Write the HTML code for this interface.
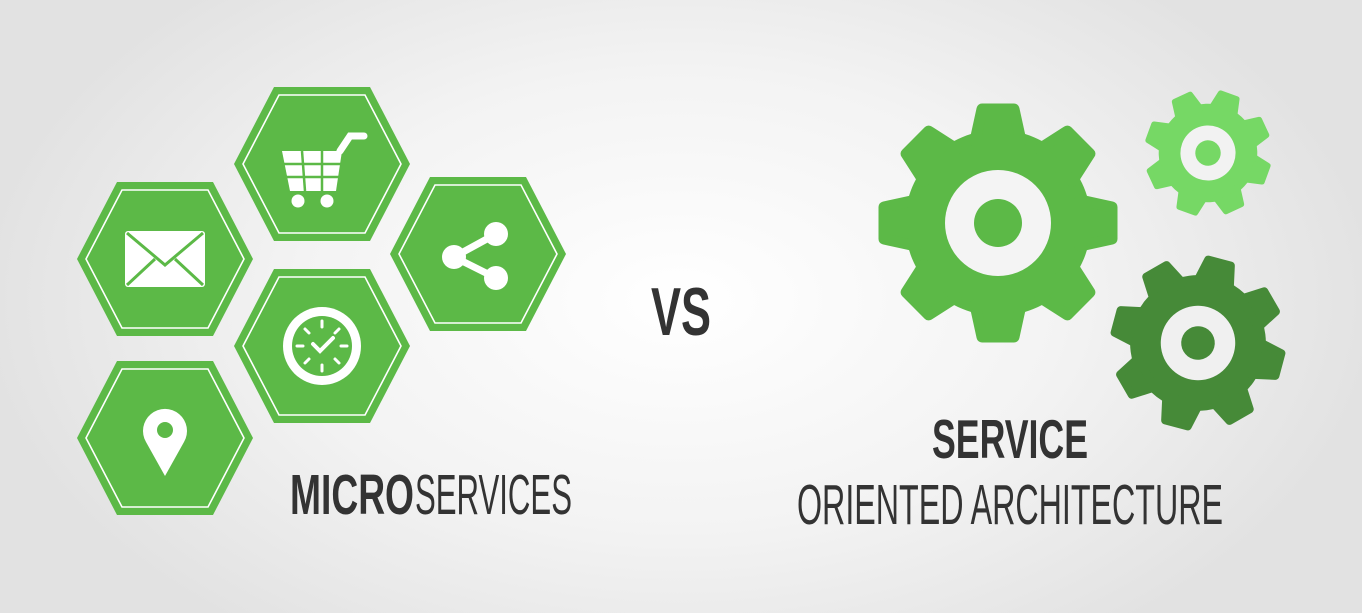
<!DOCTYPE html>
<html><head><meta charset="utf-8"><style>
html,body{margin:0;padding:0;}
body{width:1362px;height:613px;overflow:hidden;background:radial-gradient(ellipse 700px 420px at 680px 300px,#ffffff 0%,#f3f3f3 55%,#e2e2e2 100%);}
svg{display:block}
text{font-family:"Liberation Sans Narrow","Liberation Sans",sans-serif;fill:#333;}
</style></head><body>
<svg width="1362" height="613" viewBox="0 0 1362 613">
<defs>
<polygon id="hx" points="-88,0 -48,-77 48,-77 88,0 48,77 -48,77" fill="#5cb947"/>
<polygon id="hi" points="-79,0 -43,-69 43,-69 79,0 43,69 -43,69" fill="none" stroke="#fff" stroke-width="1.6"/>
<g id="tooth8"><polygon points="-23,-82 -16,-114 16,-114 23,-82" stroke-width="11" stroke-linejoin="round"/></g>
</defs>
<!-- hexes -->
<g transform="translate(322,164)"><use href="#hx"/><use href="#hi"/>
 <g fill="#fff">
  <path d="M-40,-13 L20,-13 L14,27 L-32,27 Z"/>
  <path d="M18,-13 L28,-28 L42,-28" stroke="#fff" stroke-width="7" stroke-linecap="round" fill="none"/>
  <circle cx="-24" cy="37" r="6.5"/><circle cx="5" cy="37" r="6.5"/>
 </g>
 <g stroke="#5cb947" stroke-width="2.5"><line x1="-40" y1="0" x2="20" y2="0"/><line x1="-40" y1="13" x2="20" y2="13"/><line x1="-20" y1="-13" x2="-17" y2="27"/><line x1="0" y1="-13" x2="0" y2="27"/></g>
</g>
<g transform="translate(165,259)"><use href="#hx"/><use href="#hi"/>
 <rect x="-40" y="-28" width="80" height="56" rx="3" fill="#fff"/>
 <path d="M-38,-26 L0,6 L38,-26 M-38,26 L-10,0 M38,26 L10,0" stroke="#5cb947" stroke-width="3" fill="none"/>
</g>
<g transform="translate(478,254)"><use href="#hx"/><use href="#hi"/>
 <path d="M-24,3 L18,-20 M-24,3 L18,24" stroke="#fff" stroke-width="7"/>
 <circle cx="-24" cy="3" r="12" fill="#fff"/><circle cx="18" cy="-20" r="12" fill="#fff"/><circle cx="18" cy="24" r="12" fill="#fff"/>
</g>
<g transform="translate(322,346)"><use href="#hx"/><use href="#hi"/>
 <circle r="39" fill="#fff"/><circle r="30" fill="#5cb947"/>
 <g stroke="#fff" stroke-width="3" stroke-linecap="round">
  <line x1="0" y1="-25" x2="0" y2="-19"/><line x1="0" y1="25" x2="0" y2="19"/><line x1="-25" y1="0" x2="-19" y2="0"/><line x1="25" y1="0" x2="19" y2="0"/>
  <line x1="-17" y1="-17" x2="-13" y2="-13"/><line x1="17" y1="-17" x2="13" y2="-13"/><line x1="-17" y1="17" x2="-13" y2="13"/><line x1="17" y1="17" x2="13" y2="13"/>
 </g>
 <path d="M-9,-2 L-2,5 L11,-8" stroke="#fff" stroke-width="4" fill="none" stroke-linecap="round"/>
</g>
<g transform="translate(165,438)"><use href="#hx"/><use href="#hi"/>
 <path d="M0,38 L-19,4 A22,22 0 1 1 19,4 Z" fill="#fff"/><circle cx="0" cy="-8" r="8" fill="#5cb947"/>
</g>
<text x="290" y="514" font-size="57" font-weight="bold" textLength="124" lengthAdjust="spacingAndGlyphs">MICRO</text>
<text x="415" y="514" font-size="57" textLength="157" lengthAdjust="spacingAndGlyphs">SERVICES</text>
<text x="651" y="335" font-size="68" font-weight="bold" textLength="60" lengthAdjust="spacingAndGlyphs">VS</text>
<text x="932" y="458" font-size="55" font-weight="bold" textLength="156" lengthAdjust="spacingAndGlyphs">SERVICE</text>
<text x="797" y="524" font-size="57" textLength="426" lengthAdjust="spacingAndGlyphs">ORIENTED ARCHITECTURE</text>
<!-- gears -->
<g transform="translate(998,223)" fill="#5cb947" stroke="#5cb947" stroke-width="0">
 <circle r="93"/>
 <use href="#tooth8"/><use href="#tooth8" transform="rotate(45)"/><use href="#tooth8" transform="rotate(90)"/><use href="#tooth8" transform="rotate(135)"/><use href="#tooth8" transform="rotate(180)"/><use href="#tooth8" transform="rotate(225)"/><use href="#tooth8" transform="rotate(270)"/><use href="#tooth8" transform="rotate(315)"/>
 <circle r="53" fill="#f4f4f4"/><circle r="24"/>
</g>
<g transform="translate(1208,153) scale(0.53) rotate(20)" fill="#76d865" stroke="#76d865" stroke-width="0">
 <circle r="93"/>
 <use href="#tooth8"/><use href="#tooth8" transform="rotate(45)"/><use href="#tooth8" transform="rotate(90)"/><use href="#tooth8" transform="rotate(135)"/><use href="#tooth8" transform="rotate(180)"/><use href="#tooth8" transform="rotate(225)"/><use href="#tooth8" transform="rotate(270)"/><use href="#tooth8" transform="rotate(315)"/>
 <circle r="52" fill="#f2f2f2"/><circle r="24"/>
</g>
<g transform="translate(1198,343) scale(0.73) rotate(15)" fill="#468a38" stroke="#468a38" stroke-width="0">
 <circle r="93"/>
 <use href="#tooth8"/><use href="#tooth8" transform="rotate(45)"/><use href="#tooth8" transform="rotate(90)"/><use href="#tooth8" transform="rotate(135)"/><use href="#tooth8" transform="rotate(180)"/><use href="#tooth8" transform="rotate(225)"/><use href="#tooth8" transform="rotate(270)"/><use href="#tooth8" transform="rotate(315)"/>
 <circle r="51" fill="#f0f0f0"/><circle r="23"/>
</g>
</svg>
</body></html>
